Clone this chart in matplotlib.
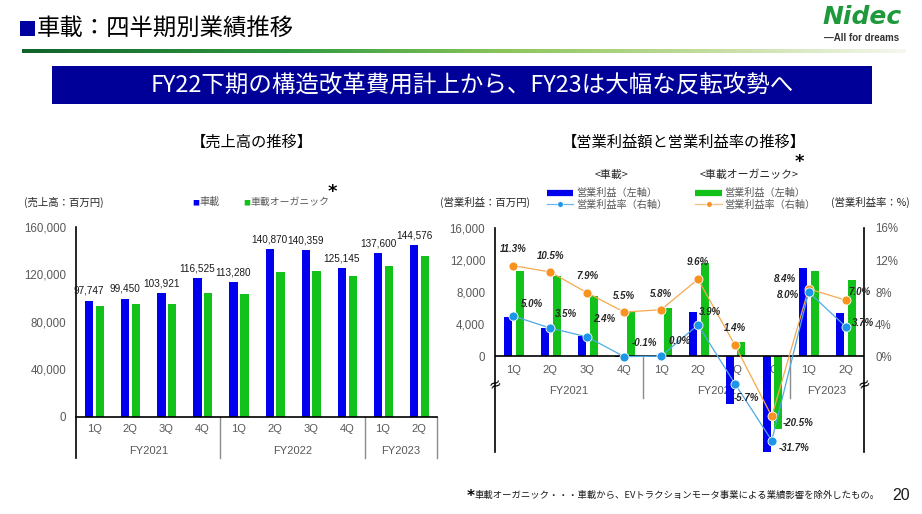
import numpy as np
import matplotlib
matplotlib.use("Agg")
import matplotlib.pyplot as plt
from matplotlib.colors import LinearSegmentedColormap
from matplotlib.ticker import FuncFormatter
from matplotlib.patches import Rectangle

plt.rcParams['font.family'] = ['Noto Sans CJK JP', 'DejaVu Sans']
NUM_FONT = ['Liberation Sans Narrow', 'Liberation Sans', 'DejaVu Sans']

# ---------------- data ----------------
quarters = ['1Q', '2Q', '3Q', '4Q', '1Q', '2Q', '3Q', '4Q', '1Q', '2Q']
fiscal_years = ['FY2021', 'FY2022', 'FY2023']
fy_sizes = [4, 4, 2]
sales_auto = [97747, 99450, 103921, 116525, 113280, 140870, 140359, 125145, 137600, 144576]
sales_organic = [93500, 94900, 94700, 104400, 103300, 121600, 122700, 118800, 127200, 135600]
op_auto = [4900, 3480, 2490, -120, 30, 5500, -8000, -39700, 11000, 5350]
op_organic = [10600, 9950, 7450, 5700, 6000, 11670, 1750, -24400, 10650, 9500]
margin_auto = [5.0, 3.5, 2.4, -0.1, 0.0, 3.9, -5.7, -31.7, 8.0, 3.7]
margin_organic = [11.3, 10.5, 7.9, 5.5, 5.8, 9.6, 1.4, -20.5, 8.4, 7.0]
sales_ticks = [0, 40000, 80000, 120000, 160000]
op_ticks = [0, 4000, 8000, 12000, 16000]
margin_ticks = [0, 4, 8, 12, 16]

# label offsets (pixels) for margin labels
off_auto = [(19, 12), (16, 14), (17, 18), (20, 14), (19, 15), (12, 13), (12, -14), (22, -7), (-21, -3), (17, 4)]
off_org = [(0, 17), (0, 16), (0, 17), (0, 16), (0, 16), (0, 17), (0, 17), (26, -7), (-24, 10), (14, 8)]

BLUE = '#0000EE'
GREEN = '#12C21A'
LBLUE = '#1E96E8'
ORANGE = '#F7931E'
GRAY = '#595959'

W, H = 922, 514
fig = plt.figure(figsize=(W / 100, H / 100), dpi=100)


def fx(x):
    return x / W


def fy(y):
    return 1 - y / H


# ---------------- header ----------------
fig.patches.append(Rectangle((fx(20), fy(36)), fx(15), 15 / H, transform=fig.transFigure,
                             facecolor='#0000A0', edgecolor='none'))
fig.text(fx(37), fy(28), '車載：四半期別業績推移', color='black', fontsize=16.8, va='center', ha='left')

gax = fig.add_axes([fx(22), fy(53), fx(905) - fx(22), (53 - 49) / H])
gcm = LinearSegmentedColormap.from_list('g', [(0, '#11632A'), (0.3, '#2F9A40'), (0.55, '#8CC65A'),
                                              (0.8, '#C9DFA6'), (1.0, '#F4F8EE')])
gax.imshow(np.linspace(0, 1, 400)[None, :], aspect='auto', cmap=gcm)
gax.axis('off')

bax = fig.add_axes([fx(52), fy(104), fx(872) - fx(52), (104 - 66) / H])
bax.set_facecolor('#000099')
bax.set_xticks([]); bax.set_yticks([])
for s in bax.spines.values():
    s.set_visible(False)
fig.text(fx(472), fy(85), 'FY22下期の構造改革費用計上から、FY23は大幅な反転攻勢へ', color='white',
         fontsize=16.9, ha='center', va='center')

fig.text(fx(862), fy(17), 'Nidec', color='#1E9A3C', fontsize=18, fontweight='heavy', style='italic',
         ha='center', va='center', family=['DejaVu Sans'])
fig.text(fx(862), fy(38), '—All for dreams', color='#333333', fontsize=7, fontweight='bold',
         ha='center', va='center', family=['Liberation Sans', 'DejaVu Sans'])

# ---------------- left chart: sales ----------------
x = np.arange(len(quarters))
ax1 = fig.add_axes([fx(76), fy(416.7), fx(437) - fx(76), (416.7 - 226.7) / H])
ax1.bar(x - 0.135, sales_auto, width=0.23, color=BLUE, zorder=2)
ax1.bar(x + 0.165, sales_organic, width=0.23, color=GREEN, zorder=2)
ax1.set_xlim(-0.5, len(quarters) - 0.5)
ax1.set_ylim(0, 160000)
ax1.set_yticks(sales_ticks)
ax1.yaxis.set_major_formatter(FuncFormatter(lambda v, p: f'{int(v):,}'))
ax1.tick_params(axis='y', length=0, pad=7, labelsize=8.3, labelcolor=GRAY)
ax1.set_xticks(x, quarters)
ax1.tick_params(axis='x', length=0, pad=5.5, labelsize=8, labelcolor=GRAY)
for lab in ax1.get_xticklabels() + ax1.get_yticklabels():
    lab.set_family(NUM_FONT)
for s in ['top', 'right', 'left']:
    ax1.spines[s].set_visible(False)
ax1.spines['bottom'].set_color('black')
ax1.spines['bottom'].set_linewidth(1.2)
dep1 = -(458 - 416.7) / (416.7 - 226.7)
ax1.plot([0, 0], [dep1, 1], transform=ax1.transAxes, color='black', lw=1.2, clip_on=False)
start = 0
for name, n in zip(fiscal_years, fy_sizes):
    end = start + n
    ax1.plot([end - 0.5, end - 0.5], [0, dep1], color='#8C8C8C', lw=1,
             transform=ax1.get_xaxis_transform(), clip_on=False)
    ax1.text((start + end - 1) / 2, -(451 - 416.7) / 190, name, transform=ax1.get_xaxis_transform(),
             ha='center', va='center', fontsize=8, color=GRAY, family=NUM_FONT)
    start = end
for xi, v in zip(x, sales_auto):
    ax1.annotate(f'{v:,}', (xi - 0.135, v), xytext=(0, 5), textcoords='offset pixels',
                 ha='center', va='bottom', fontsize=7.2, color='#1A1A1A', family=NUM_FONT)

fig.text(fx(252), fy(142), '【売上高の推移】', fontsize=11, ha='center', va='center', color='black')
fig.text(fx(24), fy(202), '(売上高：百万円)', fontsize=7.5, ha='left', va='center', color='#262626')
fig.text(fx(192), fy(203), '■', fontsize=5, color=BLUE, ha='left', va='center')
fig.text(fx(199), fy(202), '車載', fontsize=7.3, color=GRAY, ha='left', va='center')
fig.text(fx(243), fy(203), '■', fontsize=5, color=GREEN, ha='left', va='center')
fig.text(fx(250), fy(202), '車載オーガニック', fontsize=7.1, color=GRAY, ha='left', va='center')
fig.text(fx(332), fy(192), '*', fontsize=13, fontweight='bold', color='black', ha='center', va='center',
         family=['DejaVu Sans'])


# ---------------- right chart: operating profit ----------------
def break_funcs(lim, f1, f2):
    def fwd(y):
        y = np.asarray(y, float)
        return np.where(y >= 0, y, np.where(y >= -lim, y * f1, -lim * f1 + (y + lim) * f2))

    def inv(d):
        d = np.asarray(d, float)
        return np.where(d >= 0, d, np.where(d >= -lim * f1, d / f1, (d + lim * f1) / f2 - lim))
    return fwd, inv


ax2 = fig.add_axes([fx(495), fy(452), fx(864) - fx(495), (452 - 228) / H])
ax2.set_yscale('function', functions=break_funcs(8000, 0.74, 0.19))
ax2.bar(x - 0.14, op_auto, width=0.217, color=BLUE, zorder=2)
ax2.bar(x + 0.178, op_organic, width=0.217, color=GREEN, zorder=2)
ax2.set_xlim(-0.5, len(quarters) - 0.5)
ax2.set_ylim(-39800, 16000)
ax2.set_yticks(op_ticks)
ax2.yaxis.set_major_formatter(FuncFormatter(lambda v, p: f'{int(v):,}'))
ax2.tick_params(axis='y', length=0, pad=7, labelsize=8.3, labelcolor=GRAY)
ax2.set_xticks([])
ax2.axhline(0, color='black', lw=1.2, zorder=3)
for s in ['top', 'bottom', 'right']:
    ax2.spines[s].set_visible(False)
ax2.spines['left'].set_color('black')
ax2.spines['left'].set_linewidth(1.2)

ax3 = ax2.twinx()
ax3.set_yscale('function', functions=break_funcs(6, 0.6, 0.27))
ax3.set_ylim(-37.0, 16)
ax3.set_yticks(margin_ticks)
ax3.yaxis.set_major_formatter(FuncFormatter(lambda v, p: f'{int(v)}%'))
ax3.tick_params(axis='y', length=0, pad=8, labelsize=8.3, labelcolor=GRAY)
for s in ['top', 'bottom', 'left']:
    ax3.spines[s].set_visible(False)
ax3.spines['right'].set_color('black')
ax3.spines['right'].set_linewidth(1.2)
for lab in ax2.get_yticklabels() + ax3.get_yticklabels():
    lab.set_family(NUM_FONT)

ax3.plot(x, margin_organic, color='#F6A94E', lw=0.9, marker='o', ms=6.5, mfc=ORANGE, mec='white',
         mew=0.6, zorder=4)
ax3.plot(x, margin_auto, color='#4FA9E6', lw=0.9, marker='o', ms=6.5, mfc=LBLUE, mec='white',
         mew=0.6, zorder=5)
for xi, v, o in zip(x, margin_auto, off_auto):
    ax3.annotate(f'{v:.1f}%', (xi, v), xytext=o, textcoords='offset pixels', ha='center', va='center',
                 fontsize=7, fontweight='bold', style='italic', color='#262626', family=NUM_FONT, zorder=6)
for xi, v, o in zip(x, margin_organic, off_org):
    ax3.annotate(f'{v:.1f}%', (xi, v), xytext=o, textcoords='offset pixels', ha='center', va='center',
                 fontsize=7, fontweight='bold', style='italic', color='#262626', family=NUM_FONT, zorder=6)

# category labels under the zero line
zero_frac = ax2.transAxes.inverted().transform(ax2.transData.transform((0, 0)))[1]
ax_h = 452 - 228
for xi, q in zip(x, quarters):
    ax2.text(xi, zero_frac - 14 / ax_h, q, transform=ax2.get_xaxis_transform(), ha='center', va='center',
             fontsize=8, color=GRAY, family=NUM_FONT, zorder=1)
start = 0
for i, (name, n) in enumerate(zip(fiscal_years, fy_sizes)):
    end = start + n
    if i < len(fiscal_years) - 1:
        ax2.plot([end - 0.5, end - 0.5], [zero_frac, zero_frac - 42 / ax_h], color='#8C8C8C', lw=1,
                 transform=ax2.get_xaxis_transform(), clip_on=False, zorder=1)
    ax2.text((start + end - 1) / 2, zero_frac - 35 / ax_h, name, transform=ax2.get_xaxis_transform(),
             ha='center', va='center', fontsize=8, color=GRAY, family=NUM_FONT, zorder=1)
    start = end
for xa in (0, 1):
    ax2.text(xa, zero_frac - 28 / ax_h, '≈', transform=ax2.transAxes, ha='center', va='center',
             fontsize=11, rotation=25, color='black', family=['DejaVu Sans'], zorder=7)

fig.text(fx(684), fy(142), '【営業利益額と営業利益率の推移】', fontsize=11, ha='center', va='center', color='black')
fig.text(fx(611), fy(175), '<車載>', fontsize=7.8, ha='center', va='center', color='#222222')
fig.text(fx(749), fy(175), '<車載オーガニック>', fontsize=7.8, ha='center', va='center', color='#222222')
fig.text(fx(799), fy(162), '*', fontsize=13, fontweight='bold', color='black', ha='center', va='center',
         family=['DejaVu Sans'])
fig.text(fx(440), fy(202), '(営業利益：百万円)', fontsize=7.5, ha='left', va='center', color='#262626')
fig.text(fx(910), fy(202), '(営業利益率：%)', fontsize=7.5, ha='right', va='center', color='#262626')

lax = fig.add_axes([0, 0, 1, 1], facecolor='none')
lax.set_xlim(0, W); lax.set_ylim(H, 0); lax.axis('off')
lax.plot([547, 573], [193, 193], color=BLUE, lw=4.5, solid_capstyle='butt')
lax.plot([547, 573], [204, 204], color='#6BB8EE', lw=0.9)
lax.plot([560], [204], marker='o', ms=4, color=LBLUE, mec='white', mew=0.4)
lax.plot([695, 722], [193, 193], color=GREEN, lw=4.5, solid_capstyle='butt')
lax.plot([695, 722], [204, 204], color='#F8BE7A', lw=0.9)
lax.plot([708.5], [204], marker='o', ms=4, color=ORANGE, mec='white', mew=0.4)
lax.text(576, 193, '営業利益（左軸）', fontsize=7.3, color=GRAY, ha='left', va='center')
lax.text(576, 205, '営業利益率（右軸）', fontsize=7.3, color=GRAY, ha='left', va='center')
lax.text(724, 193, '営業利益（左軸）', fontsize=7.3, color=GRAY, ha='left', va='center')
lax.text(724, 205, '営業利益率（右軸）', fontsize=7.3, color=GRAY, ha='left', va='center')

# ---------------- footer ----------------
fig.text(fx(467), fy(496), '*', fontsize=11, fontweight='bold', color='black', ha='left', va='center',
         family=['DejaVu Sans'])
fig.text(fx(474), fy(495), '車載オーガニック・・・車載から、EVトラクションモータ事業による業績影響を除外したもの。',
         fontsize=6.75, color='#1A1A1A', ha='left', va='center')
fig.text(fx(901), fy(495), '20', fontsize=11.5, color='#1A1A1A', ha='center', va='center',
         family=['Liberation Sans Narrow', 'Liberation Sans'])

fig.savefig('out.png', dpi=100)
